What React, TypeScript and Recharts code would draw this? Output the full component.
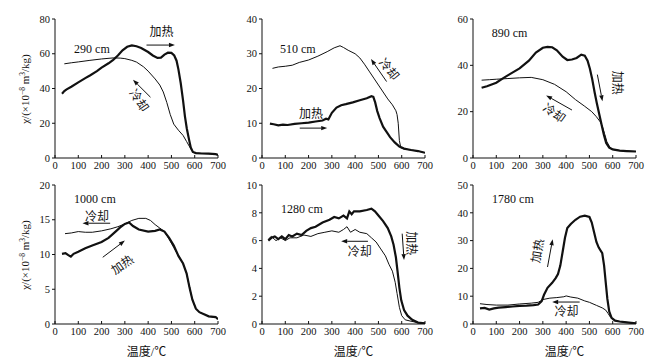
import { LineChart, Line, XAxis, YAxis, ReferenceLine, ReferenceDot } from 'recharts';

const SERIF = "'Liberation Serif', 'Noto Sans CJK SC', serif";
const INK = '#111';

const TEMP_TICKS = [0, 100, 200, 300, 400, 500, 600, 700];

// [temperature °C, χ]; heating = thick, cooling = thin
const heat290 = [[30, 37], [40, 38.5], [50, 39.5], [70, 41], [100, 43.5], [130, 46], [150, 47.5], [180, 50], [200, 52], [230, 54.5], [250, 56.5], [270, 59], [290, 62], [310, 64], [330, 64.8], [350, 64.3], [370, 63.3], [400, 61], [420, 59], [440, 57.6], [455, 57.8], [470, 59.5], [485, 60.6], [500, 60.5], [512, 59], [522, 56], [530, 51], [540, 43], [550, 33], [558, 24], [566, 17], [575, 11], [583, 6], [592, 3.5], [605, 2.8], [630, 2.6], [660, 2.5], [690, 2.2], [700, 1.8]];
const cool290 = [[40, 54.2], [70, 54.8], [100, 55.3], [150, 56.2], [200, 57], [250, 57.6], [280, 57.5], [300, 57.2], [330, 56.2], [350, 55.2], [380, 52.5], [400, 50], [430, 45.5], [450, 42], [465, 38], [480, 32], [495, 25], [510, 19.5], [530, 16], [550, 13], [565, 9.5], [580, 6], [592, 3.5], [605, 2.8], [630, 2.6], [660, 2.5], [690, 2.2], [700, 1.8]];

const heat510 = [[34, 9.9], [50, 9.7], [70, 9.4], [90, 9.6], [110, 9.5], [140, 9.8], [170, 10], [200, 10.2], [230, 10.5], [260, 10.8], [275, 11.3], [285, 11.1], [300, 13], [320, 14.5], [340, 15.2], [360, 15.5], [390, 16], [420, 16.6], [450, 17.2], [470, 17.8], [478, 17.6], [486, 16], [495, 13.5], [505, 11.5], [520, 9], [535, 7.5], [550, 6], [570, 4.5], [590, 3.3], [610, 2.7], [640, 2.3], [670, 2], [700, 1.5]];
const cool510 = [[45, 25.8], [70, 26.2], [100, 26.4], [130, 26.7], [160, 27.5], [200, 28.2], [240, 29.3], [280, 30.6], [310, 31.7], [335, 32.3], [350, 31.8], [370, 31], [400, 30], [420, 28.8], [440, 27], [460, 25], [480, 23], [500, 21], [520, 19], [540, 17], [560, 15.3], [575, 13.6], [580, 12.5], [585, 10], [590, 5], [596, 3], [610, 2.6], [640, 2.3], [670, 2], [700, 1.5]];

const heat890 = [[37, 30.3], [60, 31], [100, 32.5], [130, 34.5], [160, 36.3], [200, 38.7], [240, 42], [270, 45.5], [300, 47.6], [320, 48], [340, 47.8], [360, 46.5], [385, 43.7], [405, 42.3], [425, 42.5], [445, 43.2], [465, 44.6], [480, 44.2], [492, 42], [502, 38.5], [512, 34], [522, 28.5], [532, 23.5], [542, 19], [552, 14.5], [562, 10], [572, 6.5], [585, 4.5], [600, 3.7], [630, 3.2], [660, 3], [700, 2.8]];
const cool890 = [[37, 33.6], [70, 33.8], [100, 34], [150, 34.3], [200, 34.6], [250, 34.8], [300, 33.8], [350, 31.8], [400, 28.6], [440, 25.2], [480, 22.3], [510, 20], [530, 17.8], [545, 15.8], [555, 13.8], [565, 10.5], [575, 7], [588, 4.6], [600, 3.7], [630, 3.2], [660, 3], [700, 2.8]];

const heat1000 = [[30, 10.1], [45, 10.2], [57, 9.9], [68, 9.7], [80, 10.1], [100, 10.4], [130, 10.9], [160, 11.3], [200, 11.8], [230, 12.4], [260, 13.3], [280, 13.9], [300, 14.4], [318, 14.6], [335, 14.1], [360, 13.6], [400, 13.3], [430, 13.4], [450, 13.6], [470, 13.3], [490, 12.4], [510, 11.3], [530, 9.8], [550, 8.7], [565, 7.3], [578, 5.2], [590, 3.5], [605, 2.2], [620, 1.7], [640, 1.4], [660, 1.1], [690, 1.0], [700, 0.7]];
const cool1000 = [[43, 13], [70, 13.1], [100, 13.3], [130, 13.2], [160, 13.2], [200, 13.4], [240, 13.7], [270, 14], [300, 14.4], [330, 14.9], [360, 15.2], [390, 15.2], [410, 14.9], [430, 14.3], [450, 13.8], [470, 13.3], [490, 12.2], [510, 11], [530, 9.8], [550, 8.7], [565, 7.3], [578, 5.2], [590, 3.5], [605, 2.2], [620, 1.7], [640, 1.4], [660, 1.1], [690, 1.0], [700, 0.7]];

const heat1280 = [[27, 6.0], [40, 6.2], [55, 6.3], [70, 6.1], [85, 6.3], [100, 6.1], [115, 6.4], [130, 6.3], [150, 6.5], [170, 6.4], [190, 6.7], [210, 6.9], [230, 7.0], [260, 7.3], [290, 7.5], [310, 7.7], [330, 7.6], [350, 7.8], [365, 7.6], [375, 8.1], [385, 7.9], [395, 8.1], [420, 8.1], [450, 8.2], [470, 8.3], [485, 8.1], [500, 7.8], [520, 7.4], [540, 6.9], [555, 6.3], [565, 5.7], [575, 4.8], [582, 3.8], [590, 2.6], [598, 1.7], [610, 1.0], [625, 0.6], [645, 0.3], [670, 0.1], [700, 0.05]];
const cool1280 = [[27, 6.1], [40, 6.3], [60, 6.0], [80, 6.2], [100, 6.0], [120, 6.2], [150, 6.2], [180, 6.4], [210, 6.3], [240, 6.5], [270, 6.6], [300, 6.7], [330, 6.6], [350, 6.8], [365, 7.0], [380, 6.6], [400, 6.8], [420, 6.6], [450, 6.5], [470, 6.2], [490, 5.9], [510, 5.4], [530, 4.9], [545, 4.3], [560, 3.8], [572, 3.0], [580, 2.2], [590, 1.2], [600, 0.6], [615, 0.3], [640, 0.2], [670, 0.1], [700, 0.05]];

const heat1780 = [[30, 5.6], [50, 5.8], [70, 5.2], [90, 5.6], [110, 5.9], [140, 6.1], [170, 6.3], [200, 6.5], [230, 6.6], [260, 6.8], [280, 7.0], [295, 8.2], [305, 10.5], [320, 13], [340, 14.8], [355, 16.5], [365, 18], [375, 21], [385, 26], [395, 31], [405, 34.5], [420, 36], [440, 37.5], [460, 38.6], [480, 39], [500, 38.5], [510, 36.5], [520, 33], [530, 29.5], [540, 27.5], [555, 25.5], [563, 21], [570, 15], [577, 9], [585, 4.5], [595, 2.2], [610, 1.2], [630, 0.9], [660, 0.6], [700, 0.2]];
const cool1780 = [[30, 7.3], [60, 7.0], [100, 6.8], [150, 6.8], [200, 7.2], [250, 7.5], [280, 7.8], [300, 8.8], [330, 9.3], [360, 9.5], [390, 9.8], [400, 10.1], [420, 9.7], [450, 9.3], [480, 8.3], [500, 7.8], [530, 6.7], [555, 5.8], [570, 5], [580, 3.8], [590, 2.5], [605, 1.5], [625, 0.9], [660, 0.6], [700, 0.2]];

// annotations in data units: [text, t, chi, angle, anchor]
type Note = [string, number, number, number, 'start' | 'middle'];
type Arrow = [number, number, number, number];

const notes290: Note[] = [['290 cm', 82, 63, 0, 'start'], ['加热', 457, 72.5, 0, 'middle'], ['冷却', 360, 33, 55, 'middle']];
const arrows290: Arrow[] = [[393, 65, 515, 65], [410, 35, 335, 45]];
const notes510: Note[] = [['510 cm', 77, 31.5, 0, 'start'], ['冷却', 545, 25.5, 50, 'middle'], ['加热', 210, 12.6, 0, 'middle']];
const arrows510: Arrow[] = [[535, 22, 468, 28.5], [162, 8.6, 280, 8.6]];
const notes890: Note[] = [['890 cm', 80, 54, 0, 'start'], ['加热', 618, 32.5, 90, 'middle'], ['冷却', 348, 19.3, 35, 'middle']];
const arrows890: Arrow[] = [[534, 36, 556, 24.5], [425, 20.7, 314, 27]];
const notes1000: Note[] = [['1000 cm', 82, 18, 0, 'start'], ['冷却', 180, 15.4, 0, 'middle'], ['加热', 290, 8.5, -35, 'middle']];
const arrows1000: Arrow[] = [[237, 14.5, 118, 14.5], [205, 9.6, 300, 12]];
const notes1280: Note[] = [['1280 cm', 82, 8.3, 0, 'start'], ['冷却', 420, 5.2, 0, 'middle'], ['加热', 638, 5.8, 90, 'middle']];
const arrows1280: Arrow[] = [[455, 5.95, 340, 5.95], [602, 6.5, 610, 4.6]];
const notes1780: Note[] = [['1780 cm', 82, 45, 0, 'start'], ['加热', 278, 26.3, -80, 'middle'], ['冷却', 402, 4.3, 0, 'middle']];
const arrows1780: Arrow[] = [[320, 20.5, 342, 30.5], [458, 7.9, 340, 7.9]];

const COLS = [55, 262, 473];
const ROWS = [19, 185];
const PLOT_W = 163;
const PLOT_H = 139;

const toPts = (rows: number[][]) => rows.map(([t, chi]) => ({ t, chi }));

const ArrowShape = (p: any) => {
  const { x1, y1, x2, y2 } = p;
  const a = Math.atan2(y2 - y1, x2 - x1);
  const L = 6;
  const W = 2.2;
  const bx = x2 - L * Math.cos(a);
  const by = y2 - L * Math.sin(a);
  const pts = `${x2},${y2} ${bx - W * Math.sin(a)},${by + W * Math.cos(a)} ${bx + W * Math.sin(a)},${by - W * Math.cos(a)}`;
  return (
    <g>
      <line x1={x1} y1={y1} x2={bx} y2={by} stroke={INK} strokeWidth={1} />
      <polygon points={pts} fill={INK} />
    </g>
  );
};

const noteShape = (n: Note) => (p: any) => (
  <text
    x={p.cx}
    y={p.cy}
    transform={n[3] ? `rotate(${n[3]} ${p.cx} ${p.cy})` : undefined}
    textAnchor={n[4]}
    dominantBaseline="central"
    fontSize={12}
    fontFamily={SERIF}
    fill={INK}
  >
    {n[0]}
  </text>
);

interface PanelProps {
  col: number;
  row: number;
  yMax: number;
  yTicks: number[];
  heat: number[][];
  cool: number[][];
  notes: Note[];
  arrows: Arrow[];
}

function Panel({ col, row, yMax, yTicks, heat, cool, notes, arrows }: PanelProps) {
  const yW = col === 0 ? COLS[0] : 40;
  const w = yW + PLOT_W + 14;
  const h = 10 + PLOT_H + 22;
  const tick = { fontSize: 10.5, fontFamily: SERIF, fill: INK };
  return (
    <div style={{ position: 'absolute', left: COLS[col] - yW, top: ROWS[row] - 10 }}>
      <LineChart width={w} height={h} margin={{ top: 10, right: 14, left: 0, bottom: 0 }}>
        <XAxis
          type="number"
          dataKey="t"
          domain={[0, 700]}
          ticks={TEMP_TICKS}
          interval={0}
          allowDataOverflow
          height={22}
          tickSize={-3}
          tickMargin={7}
          stroke={INK}
          tick={tick}
        />
        <YAxis
          type="number"
          dataKey="chi"
          domain={[0, yMax]}
          ticks={yTicks}
          interval={0}
          allowDataOverflow
          width={yW}
          tickSize={3}
          tickMargin={2}
          stroke={INK}
          tick={tick}
        />
        <Line data={toPts(cool)} dataKey="chi" type="linear" stroke={INK} strokeWidth={1} dot={false} isAnimationActive={false} />
        <Line data={toPts(heat)} dataKey="chi" type="linear" stroke={INK} strokeWidth={2.2} dot={false} isAnimationActive={false} />
        {arrows.map((a, i) => (
          <ReferenceLine
            key={`a${i}`}
            segment={[{ x: a[0], y: a[1] }, { x: a[2], y: a[3] }]}
            ifOverflow="visible"
            shape={ArrowShape}
          />
        ))}
        {notes.map((n, i) => (
          <ReferenceDot key={`n${i}`} x={n[1]} y={n[2]} r={0} ifOverflow="visible" shape={noteShape(n)} />
        ))}
      </LineChart>
    </div>
  );
}

const YTitle = ({ row }: { row: number }) => (
  <div
    style={{
      position: 'absolute',
      left: 24,
      top: ROWS[row] + PLOT_H / 2,
      transform: 'translate(-50%, -50%) rotate(-90deg)',
      whiteSpace: 'nowrap',
      fontSize: 11,
      fontFamily: SERIF,
      color: INK,
      lineHeight: '12px',
    }}
  >
    χ/(×10<span style={{ fontSize: 7.5, verticalAlign: 4 }}>−8</span> m<span style={{ fontSize: 7.5, verticalAlign: 4 }}>3</span>/kg)
  </div>
);

const XTitle = ({ col }: { col: number }) => (
  <div
    style={{
      position: 'absolute',
      left: COLS[col] + PLOT_W / 2 + 10,
      top: 351,
      transform: 'translate(-50%, -50%)',
      whiteSpace: 'nowrap',
      fontSize: 12,
      fontFamily: SERIF,
      color: INK,
    }}
  >
    温度/℃
  </div>
);

export default function App() {
  return (
    <div style={{ position: 'absolute', left: 0, top: 0, width: 656, height: 364, background: '#fff', overflow: 'hidden' }}>
      <Panel col={0} row={0} yMax={80} yTicks={[0, 20, 40, 60, 80]} heat={heat290} cool={cool290} notes={notes290} arrows={arrows290} />
      <Panel col={1} row={0} yMax={40} yTicks={[0, 10, 20, 30, 40]} heat={heat510} cool={cool510} notes={notes510} arrows={arrows510} />
      <Panel col={2} row={0} yMax={60} yTicks={[0, 20, 40, 60]} heat={heat890} cool={cool890} notes={notes890} arrows={arrows890} />
      <Panel col={0} row={1} yMax={20} yTicks={[0, 5, 10, 15, 20]} heat={heat1000} cool={cool1000} notes={notes1000} arrows={arrows1000} />
      <Panel col={1} row={1} yMax={10} yTicks={[0, 2, 4, 6, 8, 10]} heat={heat1280} cool={cool1280} notes={notes1280} arrows={arrows1280} />
      <Panel col={2} row={1} yMax={50} yTicks={[0, 10, 20, 30, 40, 50]} heat={heat1780} cool={cool1780} notes={notes1780} arrows={arrows1780} />
      <YTitle row={0} />
      <YTitle row={1} />
      <XTitle col={0} />
      <XTitle col={1} />
      <XTitle col={2} />
    </div>
  );
}
